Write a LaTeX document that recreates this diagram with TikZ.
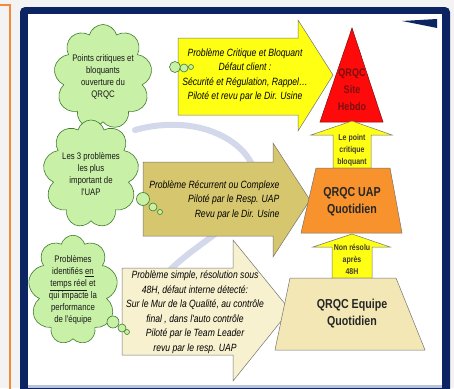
\documentclass[tikz,border=0pt]{standalone}
\usepackage{fontspec}
\setmainfont{Liberation Sans}
\newfontfamily\narrowsf[FakeStretch=0.82]{Liberation Sans}
\usepackage{xcolor}
\usepackage{tikz}
\usetikzlibrary{shapes.symbols,positioning}

\definecolor{pagegray}{HTML}{F3F3F3}
\definecolor{pageorange}{HTML}{F5893A}
\definecolor{framenavy}{HTML}{0C2562}
\definecolor{panelline}{HTML}{B9C4D9}
\definecolor{swirlblue}{HTML}{D3D9EA}
\definecolor{cloudgreen}{HTML}{C8F0A6}
\definecolor{cloudline}{HTML}{3E7D2E}
\definecolor{crityellow}{HTML}{FFFF14}
\definecolor{recurkhaki}{HTML}{D6C76E}
\definecolor{simplebeige}{HTML}{F7F1CF}
\definecolor{siteRed}{HTML}{FF0A0A}
\definecolor{siteText}{HTML}{7A1010}
\definecolor{uapOrange}{HTML}{F7922C}
\definecolor{teamBeige}{HTML}{F3E8B5}

\begin{document}
\begin{tikzpicture}[x=1pt,y=-1pt,
	thought/.style={cloud, cloud puffs=9, cloud ignores aspect, draw=cloudline, fill=cloudgreen,
		line width=0.6pt, inner sep=0pt, align=center, text=black!90,
		font=\narrowsf\fontsize{9.5}{12}\selectfont},
	bubble/.style={circle, draw=cloudline, fill=cloudgreen, line width=0.6pt, inner sep=0pt},
	bigarrow/.style={draw=black!55, line width=0.5pt},
	arrowtext/.style={align=center, text=black, font=\narrowsf\itshape\fontsize{10.5}{14.5}\selectfont},
	uptext/.style={align=center, text=black!75!olive, font=\narrowsf\bfseries\fontsize{8.5}{12}\selectfont},
	leveltext/.style={align=center, text=black!85, font=\narrowsf\bfseries\fontsize{13}{17}\selectfont}]
	\useasboundingbox (0,0) rectangle (454,388);
	\clip (0,0) rectangle (454,388);
	% page and frame
	\fill[pagegray] (0,0) rectangle (454,388);
	\draw[pageorange, line width=2pt] (0,5) -- (10,5) -- (10,390);
	\fill[framenavy, rounded corners=5pt] (20,7) rectangle (450,400);
	\fill[white] (28,14) rectangle (442,386);
	\fill[panelline] (28,385) rectangle (442,388);
	\fill[framenavy] (402,21) -- (437,19) -- (437,28) -- cycle;
	\draw[swirlblue, line width=6pt, line cap=round]
		(135,130) .. controls (215,108) and (275,160) .. (250,200)
		.. controls (235,225) and (195,245) .. (170,270);
	%
	% big arrows
	\draw[bigarrow, fill=crityellow] (178,38) -- (298,38) -- (298,20) -- (333,75)
		-- (298,131) -- (298,115) -- (178,115) -- cycle;
	\draw[bigarrow, fill=recurkhaki] (143,162) -- (273,162) -- (273,143) -- (310,200)
		-- (273,257) -- (273,236) -- (143,236) -- cycle;
	\draw[bigarrow, fill=simplebeige] (122,268) -- (233,268) -- (233,240) -- (290,310)
		-- (233,381) -- (233,355) -- (122,355) -- cycle;
	\node[arrowtext] (crittext) at (245,75)
		{Problème Critique et Bloquant\\Défaut client :\\Sécurité et Régulation, Rappel…\\Piloté et revu par le Dir. Usine};
	\node[arrowtext, align=right, anchor=east] (recurtext) at (283,200)
		{Problème Récurrent ou Complexe\\Piloté par le Resp. UAP\\Revu par le Dir. Usine};
	\node[arrowtext] (simpletext) at (195,312)
		{Problème simple, résolution sous\\48H, défaut interne détecté:\\Sur le Mur de la Qualité, au contrôle\\final , dans l'auto contrôle\\Piloté par le Team Leader\\revu par le resp. UAP};
	%
	% clouds
	\node[thought, minimum width=90pt, minimum height=105pt] (critcloud) at (103,77)
		{Points critiques et\\bloquants\\ouverture du\\QRQC};
	\node[thought, minimum width=96pt, minimum height=108pt] (uapcloud) at (91,174)
		{Les 3 problèmes\\les plus\\important de\\l'UAP};
	\node[thought, minimum width=88pt, minimum height=105pt] (teamcloud) at (73,290)
		{Problèmes\\identifiés \underline{en}\\\underline{temps réel} et\\qui impacte la\\performance\\de l'équipe};
	\node[bubble, minimum size=11pt] (critb1) at (175,67) {};
	\node[bubble, minimum size=8pt] (critb2) at (184,68) {};
	\node[bubble, minimum size=5pt] (critb3) at (191,67) {};
	\node[bubble, minimum size=13pt] (uapb1) at (143,199) {};
	\node[bubble, minimum size=8pt] (uapb2) at (153,207) {};
	\node[bubble, minimum size=5pt] (uapb3) at (160,212) {};
	\node[bubble, minimum size=12pt] (teamb1) at (113,322) {};
	\node[bubble, minimum size=8pt] (teamb2) at (122,328) {};
	\node[bubble, minimum size=5pt] (teamb3) at (127,332) {};
	%
	% levels
	\draw[draw=siteText, line width=0.5pt, fill=siteRed] (352,28) -- (383,122) -- (320,122) -- cycle;
	\node[align=center, text=siteText, font=\narrowsf\bfseries\fontsize{11}{17}\selectfont] (site) at (352,90)
		{QRQC\\Site\\Hebdo};
	\draw[bigarrow, fill=crityellow] (352,121) -- (392,135) -- (371,135) -- (371,168)
		-- (333,168) -- (333,135) -- (311,135) -- cycle;
	\node[uptext] (uptosite) at (352,150) {Le point\\critique\\bloquant};
	\draw[bigarrow, fill=uapOrange] (316,168) -- (390,168) -- (402,233) -- (301,233) -- cycle;
	\node[leveltext] (uap) at (352,202) {QRQC UAP\\Quotidien};
	\draw[bigarrow, fill=crityellow] (352,234) -- (390,247) -- (372,247) -- (372,278)
		-- (332,278) -- (332,247) -- (313,247) -- cycle;
	\node[uptext] (uptouap) at (352,259) {Non résolu\\après\\48H};
	\draw[bigarrow, fill=teamBeige] (290,278) -- (396,278) -- (425,350) -- (275,350) -- cycle;
	\node[leveltext] (team) at (352,314) {QRQC Equipe\\Quotidien};
\end{tikzpicture}
\end{document}
